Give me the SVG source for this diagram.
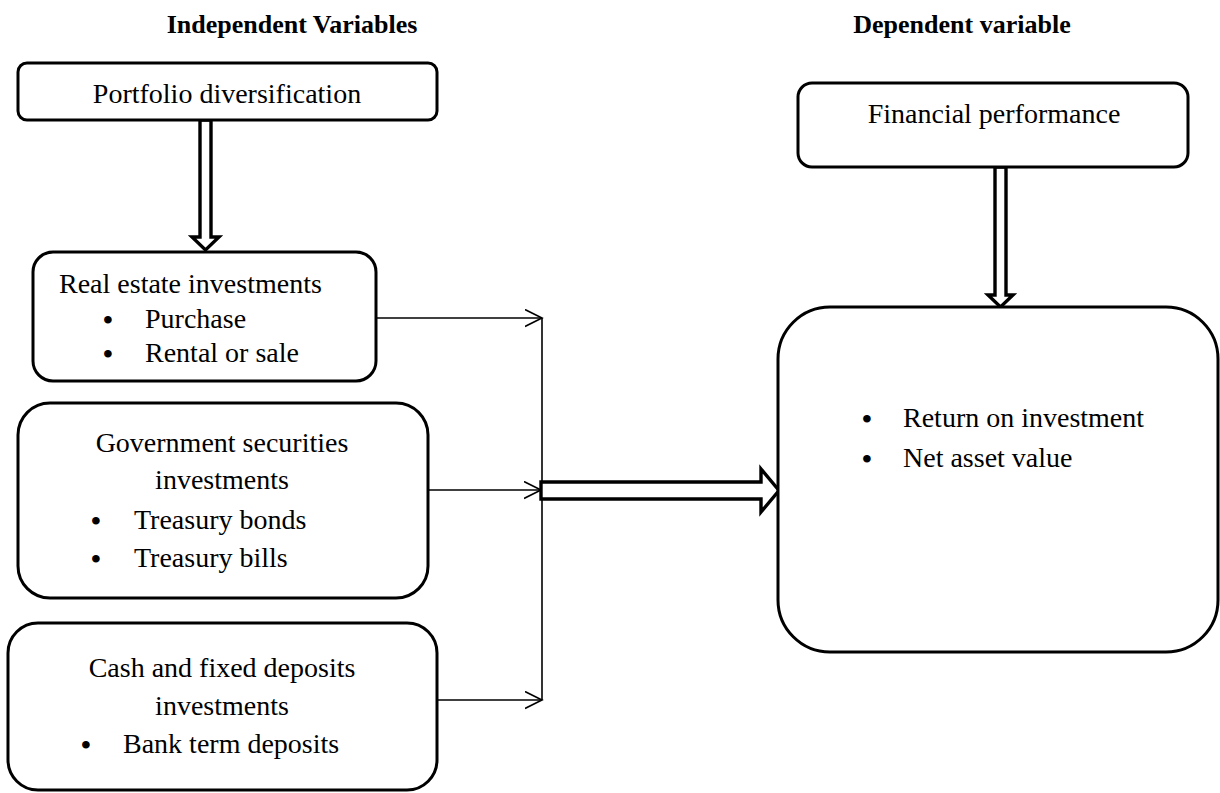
<svg xmlns="http://www.w3.org/2000/svg" width="1220" height="793" viewBox="0 0 1220 793">
<style>
.box{fill:#fff;stroke:#000;stroke-width:3}
.t{font-family:"Liberation Serif","Times New Roman",serif;font-size:28px;fill:#000}
.b{font-family:"Liberation Serif","Times New Roman",serif;font-size:28px;font-weight:bold;fill:#000}
.h{font-family:"Liberation Serif","Times New Roman",serif;font-size:26px;font-weight:bold;fill:#000}
.c{text-anchor:middle}
.ln{fill:none;stroke:#000;stroke-width:1.6}
.ha{fill:#fff;stroke:#000;stroke-width:3.4;stroke-linejoin:miter}
</style>
<defs>
<marker id="open" markerUnits="userSpaceOnUse" markerWidth="20" markerHeight="20" refX="17" refY="9" orient="auto">
<path d="M0,0.5 L17,9 L0,17.5" fill="none" stroke="#000" stroke-width="1.6"/>
</marker>
</defs>
<rect width="1220" height="793" fill="#fff"/>
<g id="headers">
<text class="h c" x="292" y="33">Independent Variables</text>
<text class="h c" x="962" y="33">Dependent variable</text>
</g>
<g id="connectors">
<polygon class="ha" points="200,120 200,237 192,237 205.5,250 219,237 211,237 211,120"/>
<polygon class="ha" points="995,167 995,295 988,295 1000.5,307 1013,295 1006,295 1006,167"/>
<path class="ln" d="M376,318 H542" marker-end="url(#open)"/>
<path class="ln" d="M428,490 H541" marker-end="url(#open)"/>
<path class="ln" d="M437,700 H542" marker-end="url(#open)"/>
<path class="ln" d="M542,318 V700"/>
<polygon class="ha" points="541,482 761,482 761,469 779,490.5 761,512 761,499 541,499"/>
</g>
<g id="portfolio">
<rect class="box" x="18" y="63" width="419" height="57" rx="9"/>
<text class="t c" x="227" y="103">Portfolio diversification</text>
</g>
<g id="realestate">
<rect class="box" x="33" y="252" width="343" height="129" rx="20"/>
<text class="t" x="59" y="293">Real estate investments</text>
<text class="b" x="103" y="329">•</text>
<text class="t" x="145" y="328">Purchase</text>
<text class="b" x="103" y="363">•</text>
<text class="t" x="145" y="362">Rental or sale</text>
</g>
<g id="government">
<rect class="box" x="18" y="403" width="410" height="195" rx="32"/>
<text class="t c" x="222" y="452">Government securities</text>
<text class="t c" x="222" y="489">investments</text>
<text class="b" x="91" y="530">•</text>
<text class="t" x="134" y="529">Treasury bonds</text>
<text class="b" x="91" y="568">•</text>
<text class="t" x="134" y="567">Treasury bills</text>
</g>
<g id="cash">
<rect class="box" x="8" y="623" width="429" height="167" rx="30"/>
<text class="t c" x="222" y="677">Cash and fixed deposits</text>
<text class="t c" x="222" y="715">investments</text>
<text class="b" x="81" y="754">•</text>
<text class="t" x="123" y="753">Bank term deposits</text>
</g>
<g id="financial">
<rect class="box" x="798" y="83" width="390" height="84" rx="14"/>
<text class="t c" x="994" y="123">Financial performance</text>
</g>
<g id="outcome">
<rect class="box" x="778" y="307" width="440" height="345" rx="52"/>
<text class="b" x="862" y="428">•</text>
<text class="t" x="903" y="427">Return on investment</text>
<text class="b" x="862" y="468">•</text>
<text class="t" x="903" y="467">Net asset value</text>
</g>
</svg>
